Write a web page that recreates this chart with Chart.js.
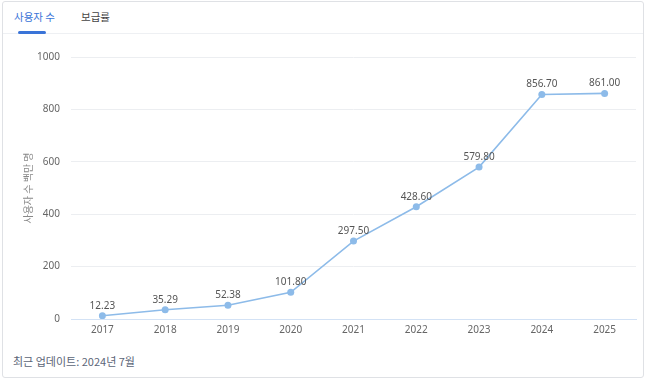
<!DOCTYPE html>
<html><head><meta charset="utf-8">
<script src="https://cdn.jsdelivr.net/npm/chart.js@4/dist/chart.umd.min.js"></script>
<style>
html,body{margin:0;padding:0;background:#fff;}
body{width:650px;height:382px;position:relative;overflow:hidden;font-family:"Noto Sans CJK KR","Noto Sans",sans-serif;}
#card{position:absolute;left:2px;top:1px;width:642px;height:377px;border:1px solid #dfe1e5;border-radius:3px;box-sizing:border-box;}
#tabs{position:absolute;left:0;top:0;width:640px;height:31px;border-bottom:1px solid #eef0f3;}
.tab{position:absolute;top:8px;font-size:10.5px;line-height:14px;}
#t1{left:11px;color:#3a74d8;}
#t2{left:78px;color:#444;}
#uline{position:absolute;left:15px;top:29px;width:28px;height:3px;background:#3a74d8;border-radius:2px;}
#foot{position:absolute;left:13px;top:353px;font-size:11px;line-height:16px;color:#5b6577;}
#wrap{position:absolute;left:0;top:40px;width:650px;height:300px;}
</style></head>
<body>
<div id="card">
  <div id="tabs"><span class="tab" id="t1">사용자 수</span><span class="tab" id="t2">보급률</span><div id="uline"></div></div>
</div>
<div id="foot">최근 업데이트: 2024년 7월</div>
<div id="wrap"><canvas id="c" width="650" height="300"></canvas></div>
<script>
const categories = ["2017","2018","2019","2020","2021","2022","2023","2024","2025"];
const users = [12.23, 35.29, 52.38, 101.80, 297.50, 428.60, 579.80, 856.70, 861.00];
const yTicks = [0, 200, 400, 600, 800, 1000];
const yTitle = "사용자 수 백만 명";

const labelPlugin = {
  id: 'valLabels',
  afterDatasetsDraw(chart) {
    const ctx = chart.ctx;
    const meta = chart.getDatasetMeta(0);
    ctx.save();
    ctx.font = '10px "Noto Sans","DejaVu Sans",sans-serif';
    ctx.fillStyle = '#555';
    ctx.textAlign = 'center';
    ctx.textBaseline = 'bottom';
    meta.data.forEach((pt, i) => {
      ctx.fillText(users[i].toFixed(2), pt.x, pt.y - 5);
    });
    ctx.restore();
  }
};

new Chart(document.getElementById('c'), {
  type: 'line',
  data: {
    labels: categories,
    datasets: [{
      data: users,
      borderColor: '#8dbbe9',
      backgroundColor: '#8dbbe9',
      borderWidth: 1.6,
      pointRadius: 3.5,
      pointBorderWidth: 0,
      tension: 0
    }]
  },
  options: {
    responsive: false,
    animation: false,
    layout: { padding: { left: 0, right: 14, top: 16, bottom: 0 } },
    plugins: { legend: { display: false }, tooltip: { enabled: false } },
    scales: {
      x: {
        offset: true,
        grid: { display: false, drawTicks: false },
        border: { color: '#d3e2f5', width: 1 },
        ticks: { color: '#666', font: { size: 10, family: '"Noto Sans","DejaVu Sans",sans-serif' }, padding: 5 },
        afterFit(s) { s.height = 21; }
      },
      y: {
        min: 0, max: 1000,
        afterBuildTicks(s) { s.ticks = yTicks.map(v => ({ value: v })); },
        grid: { color: '#eceef1', drawTicks: false },
        border: { display: false },
        ticks: { color: '#666', font: { size: 10, family: '"Noto Sans","DejaVu Sans",sans-serif' }, padding: 11, callback: v => String(v) },
        title: { display: true, text: yTitle, color: '#888', font: { size: 10, family: '"Noto Sans CJK KR",sans-serif' }, padding: { top: 22, bottom: 0 } },
        afterFit(s) { s.width = 71; }
      }
    }
  },
  plugins: [labelPlugin]
});
</script>
</body></html>
